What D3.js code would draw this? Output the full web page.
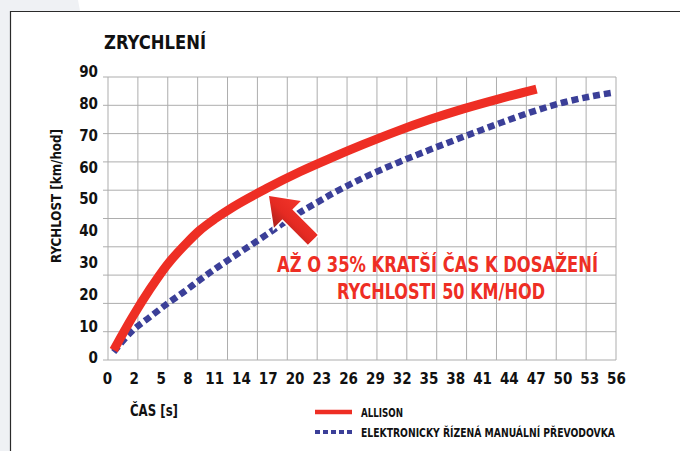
<!DOCTYPE html>
<html>
<head>
<meta charset="utf-8">
<script src="https://cdn.jsdelivr.net/npm/d3@7"></script>
<style>
  body { margin: 0; background: #fff; }
  svg { display: block; }
  text { font-family: 'Liberation Sans Narrow', 'DejaVu Sans Condensed', sans-serif; font-weight: bold; }
</style>
</head>
<body>
<script>
const width = 680, height = 451

// tick labels
const xLabels = ['0', '2', '5', '8', '11', '14', '17', '20', '23', '26', '29', '32', '35', '38', '41', '44', '47', '50', '53', '56']
const yLabels = [0, 10, 20, 30, 40, 50, 60, 70, 80, 90]

// ALLISON: time [s] / speed [km/h]
const allisonT = [0.5, 1.9, 3.8, 5.7, 8.0, 9.4, 11.2, 13.1, 16.9, 20.6, 24.3, 27.7, 31.5, 35.2, 38.9, 42.7, 47.1]
const allisonV = [2.5, 12.9, 21.6, 29.2, 36.4, 40.2, 44.0, 47.5, 53.4, 58.6, 63.2, 67.2, 71.4, 75.1, 78.4, 81.4, 84.6]

// automated manual gearbox
const amtT = [0.5, 1.9, 3.8, 5.7, 8.0, 9.4, 11.3, 13.1, 15.0, 16.9, 18.4, 20.6, 22.5, 24.3, 27.7, 31.5, 35.2, 38.9, 42.7, 46.4, 50.1, 53.9, 55.7]
const amtV = [1.9, 8.6, 12.9, 17.0, 21.6, 24.6, 28.4, 31.8, 35.3, 38.9, 41.8, 45.8, 48.9, 51.8, 56.7, 61.4, 65.6, 69.6, 73.6, 77.3, 80.4, 82.7, 83.5]

const legend = ['ALLISON', 'ELEKTRONICKY ŘÍZENÁ MANUÁLNÍ PŘEVODOVKA']

const red = '#ee2e24', blue = '#3b3f98'

const xPoint = d3.scalePoint().domain(xLabels).range([107, 616])
const step = xPoint.step()
// label spacing is uneven (0, 2, then every 3 s)
const x = d3.scaleLinear().domain([0, 2, 56]).range([107, 107 + step, 616])
const y = d3.scaleLinear().domain([0, 90]).range([358, 72])
const gx = d3.scaleLinear().domain([0, 17]).range([108, 616])
const gy = d3.scaleLinear().domain([0, 10]).range([360, 77])

const svg = d3.select('body')
  .append('svg')
  .attr('width', width)
  .attr('height', height)

// page background + frame
svg.append('rect').attr('width', width).attr('height', height).attr('fill', '#eff1f4')
svg.append('path')
  .attr('d', 'M78,0 L680,0 L680,451 L10,451 L10,11 L80,11 Z')
  .attr('fill', '#fff')
svg.append('path')
  .attr('d', 'M10.5,451 L10.5,11.5 L680,11.5')
  .attr('fill', 'none')
  .attr('stroke', '#2a2a2a')
  .attr('stroke-width', 1.2)

svg.append('text')
  .attr('x', 104).attr('y', 49)
  .attr('font-size', 19)
  .attr('textLength', 102).attr('lengthAdjust', 'spacingAndGlyphs')
  .attr('fill', '#111')
  .text('ZRYCHLENÍ')

// grid
const grid = svg.append('g').attr('stroke', '#adadad').attr('stroke-width', 1)
grid.selectAll('line.v').data(d3.range(18)).enter()
  .append('line').attr('class', 'v')
  .attr('x1', d => gx(d)).attr('x2', d => gx(d))
  .attr('y1', gy(10)).attr('y2', gy(0))
grid.selectAll('line.h').data(d3.range(11)).enter()
  .append('line').attr('class', 'h')
  .attr('x1', 103).attr('x2', gx(17))
  .attr('y1', d => gy(d)).attr('y2', d => gy(d))

// axes (labels only)
const xAxis = svg.append('g')
  .attr('transform', 'translate(0,373)')
  .call(d3.axisBottom(xPoint).tickSize(0).tickPadding(0))
xAxis.select('.domain').remove()
xAxis.selectAll('text')
  .attr('font-size', 15).attr('fill', '#111')
  .attr('font-family', null)

const yAxis = svg.append('g')
  .attr('transform', 'translate(98,0)')
  .call(d3.axisLeft(y).tickValues(yLabels).tickSize(0).tickPadding(0))
yAxis.select('.domain').remove()
yAxis.selectAll('text')
  .attr('font-size', 15).attr('fill', '#111')
  .attr('font-family', null)

svg.append('text')
  .attr('transform', 'translate(61,196) rotate(-90)')
  .attr('text-anchor', 'middle')
  .attr('font-size', 14)
  .attr('textLength', 134).attr('lengthAdjust', 'spacingAndGlyphs')
  .attr('fill', '#111')
  .text('RYCHLOST [km/hod]')

svg.append('text')
  .attr('x', 130).attr('y', 416)
  .attr('font-size', 15)
  .attr('textLength', 48).attr('lengthAdjust', 'spacingAndGlyphs')
  .attr('fill', '#111')
  .text('ČAS [s]')

// series
const line = d3.line().curve(d3.curveMonotoneX)

svg.append('path')
  .datum(d3.zip(amtT, amtV).map(d => [x(d[0]), y(d[1])]))
  .attr('d', line)
  .attr('fill', 'none')
  .attr('stroke', blue)
  .attr('stroke-width', 6.5)
  .attr('stroke-dasharray', '7,4')

svg.append('path')
  .datum(d3.zip(allisonT, allisonV).map(d => [x(d[0]), y(d[1])]))
  .attr('d', line)
  .attr('fill', 'none')
  .attr('stroke', red)
  .attr('stroke-width', 9)

// arrow
const defs = svg.append('defs')
const grad = defs.append('linearGradient')
  .attr('id', 'arrowGrad')
  .attr('x1', 0).attr('y1', 0).attr('x2', 0).attr('y2', 1)
grad.append('stop').attr('offset', '0%').attr('stop-color', '#f2352a')
grad.append('stop').attr('offset', '55%').attr('stop-color', '#e52a22')
grad.append('stop').attr('offset', '100%').attr('stop-color', '#a8201b')

svg.append('path')
  .attr('transform', 'translate(269,196) rotate(45)')
  .attr('d', 'M0,0 L26,-19 L26,-7 L62,-7 L62,7 L26,7 L26,19 Z')
  .attr('fill', 'url(#arrowGrad)')
  .attr('stroke', '#fff')
  .attr('stroke-width', 3)
  .attr('paint-order', 'stroke')

svg.append('text')
  .attr('x', 277).attr('y', 272)
  .attr('font-size', 21)
  .attr('textLength', 321).attr('lengthAdjust', 'spacingAndGlyphs')
  .attr('fill', red)
  .text('AŽ O 35% KRATŠÍ ČAS K DOSAŽENÍ')

svg.append('text')
  .attr('x', 337).attr('y', 299)
  .attr('font-size', 21)
  .attr('textLength', 208).attr('lengthAdjust', 'spacingAndGlyphs')
  .attr('fill', red)
  .text('RYCHLOSTI 50 KM/HOD')

// legend
const lg = svg.append('g')
lg.append('line')
  .attr('x1', 315).attr('x2', 352).attr('y1', 412).attr('y2', 412)
  .attr('stroke', red).attr('stroke-width', 4.5)
lg.append('line')
  .attr('x1', 315).attr('x2', 353).attr('y1', 432).attr('y2', 432)
  .attr('stroke', blue).attr('stroke-width', 4)
  .attr('stroke-dasharray', '5,3')
lg.append('text')
  .attr('x', 361).attr('y', 417)
  .attr('font-size', 11.5)
  .attr('textLength', 42).attr('lengthAdjust', 'spacingAndGlyphs')
  .attr('fill', '#111')
  .text(legend[0])
lg.append('text')
  .attr('x', 361).attr('y', 437)
  .attr('font-size', 11.5)
  .attr('textLength', 254).attr('lengthAdjust', 'spacingAndGlyphs')
  .attr('fill', '#111')
  .text(legend[1])
</script>
</body>
</html>
